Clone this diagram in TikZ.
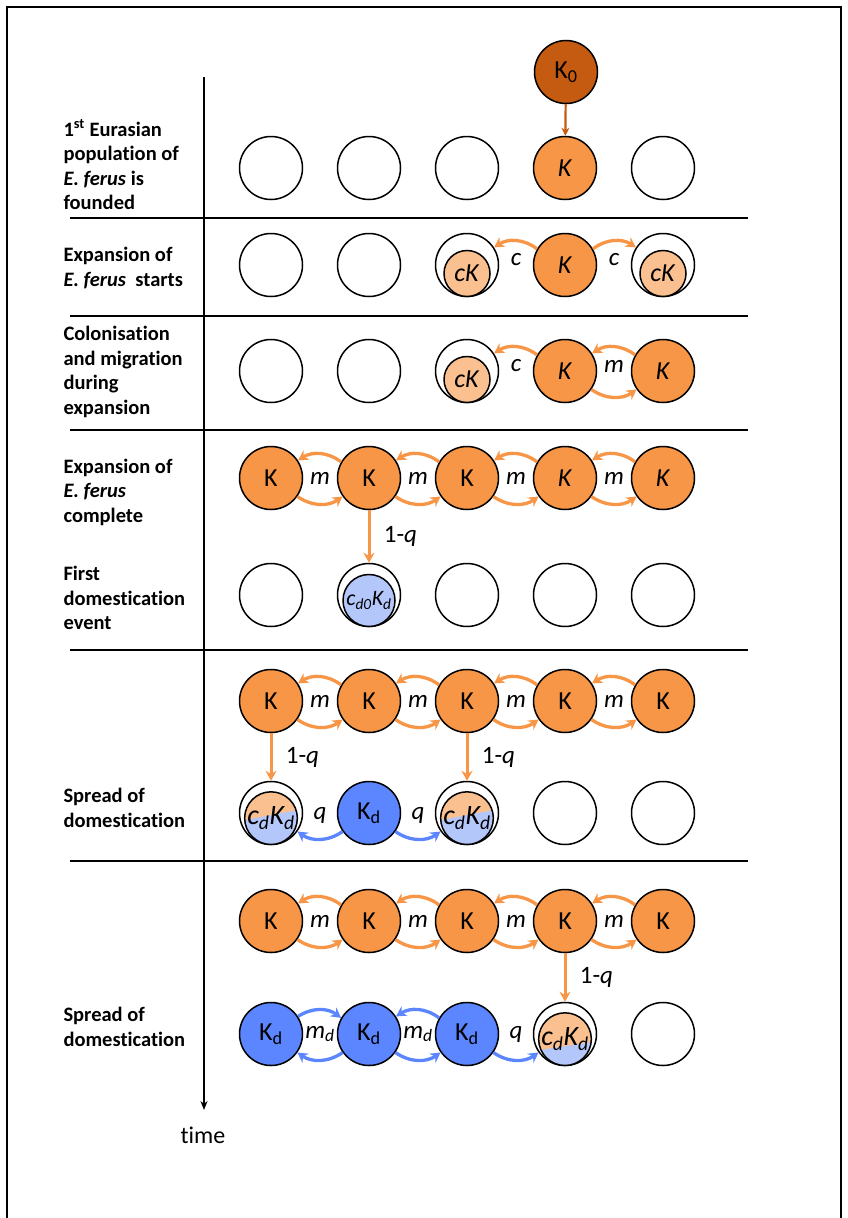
\documentclass[tikz,border=0pt]{standalone}
\usepackage{fontspec}
\setmainfont[Ligatures=NoCommon]{Carlito}
\usetikzlibrary{positioning, arrows.meta, calc}

\definecolor{kzero}{RGB}{197,90,17}
\definecolor{kwild}{RGB}{247,150,70}
\definecolor{kcol}{RGB}{250,192,144}
\definecolor{kdom}{RGB}{91,134,255}
\definecolor{kdomlight}{RGB}{180,199,250}

\tikzset{
  >={Stealth[length=10pt, width=11pt]},
  node distance=98pt,
  every node/.style={font=\fontsize{26}{30}\selectfont},
  pop/.style={circle, draw, line width=1.5pt, minimum size=63pt, inner sep=0pt},
  wild/.style={pop, fill=kwild},
  dom/.style={pop, fill=kdom},
  sub/.style={circle, draw, line width=1.5pt, minimum size=46pt, inner sep=0pt},
  halfsub/.style 2 args={sub, minimum size=48pt, fill=kcol,
    path picture={\fill[kdomlight] ([yshift=#1]path picture bounding box.west)
      -- ([yshift=#2]path picture bounding box.east)
      -- (path picture bounding box.south east)
      -- (path picture bounding box.south west) -- cycle;}},
  arc/.style={line width=3.3pt},
  mig/.style={->, kwild, line width=3.3pt, bend angle=35},
  migd/.style={->, kdom, line width=3.3pt, bend angle=35},
  drop/.style={->, kwild, line width=3pt},
  rate/.style={font=\fontsize{25}{29}\selectfont\itshape},
  prob/.style={black, font=\fontsize{25}{29}\selectfont},
  stage/.style={anchor=west, align=left, font=\fontsize{20.5}{24.5}\selectfont\bfseries},
  divider/.style={line width=2.5pt},
}

\begin{document}
\begin{tikzpicture}[x=1pt, y=-1pt]
  \useasboundingbox (0,0) rectangle (848,1218);

  % frame and time axis
  \draw[line width=2pt] (7,1218) -- (7,7) -- (841,7) -- (841,1218);
  \coordinate (ttop) at (204,77);
  \coordinate (tend) at (204,1110);
  \draw[-{Stealth[length=9pt, width=7pt]}, line width=1.8pt] (ttop) -- (tend);
  \node[font=\fontsize{24}{28}\selectfont] (time) at (203,1135) {time};

  % dividers
  \foreach \y in {218,316,430,650,861}
    \draw[divider] (70,\y) -- (748,\y);

  % stages
  \node[stage] (lab1) at (60,165) {1\textsuperscript{st} Eurasian\\population of\\\textit{E. ferus} is\\founded};
  \node[stage] (lab2) at (60,268) {Expansion of\\\textit{E. ferus}\ \ starts};
  \node[stage] (lab3) at (60,372) {Colonisation\\and migration\\during\\expansion};
  \node[stage] (lab4) at (60,492) {Expansion of\\\textit{E. ferus}\\complete};
  \node[stage] (lab5) at (60,598) {First\\domestication\\event};
  \node[stage] (lab7) at (60,808) {Spread of\\domestication};
  \node[stage] (lab9) at (60,1027) {Spread of\\domestication};

  % row 1
  \node[pop, fill=kzero] (k0) at (566,72) {K\textsubscript{0}};
  \node[pop] (r1c1) at (271,168) {};
  \node[pop, right of=r1c1] (r1c2) {};
  \node[pop, right of=r1c2] (r1c3) {};
  \node[wild, right of=r1c3] (r1c4) {\textit{K}};
  \node[pop, right of=r1c4] (r1c5) {};
  \draw[-{Stealth[length=8pt, width=8pt]}, kzero, line width=2.2pt] (k0) -- (r1c4);

  % row 2
  \node[pop] (r2c1) at (271,265) {};
  \node[pop, right of=r2c1] (r2c2) {};
  \node[pop, right of=r2c2] (r2c3) {};
  \node[wild, right of=r2c3] (r2c4) {\textit{K}};
  \node[pop, right of=r2c4] (r2c5) {};
  \node[sub, fill=kcol, anchor=south] (s2c3) at (r2c3.south) {\textit{cK}};
  \node[sub, fill=kcol, anchor=south] (s2c5) at (r2c5.south) {\textit{cK}};
  \draw[arc] (r2c4.150) edge[mig, bend right] (r2c3.33)
             (r2c4.30) edge[mig, bend left] (r2c5.147);
  \node[rate] (c23) at ($(r2c3)!.5!(r2c4)+(0,-5)$) {c};
  \node[rate] (c24) at ($(r2c4)!.5!(r2c5)+(0,-5)$) {c};

  % row 3
  \node[pop] (r3c1) at (271,371) {};
  \node[pop, right of=r3c1] (r3c2) {};
  \node[pop, right of=r3c2] (r3c3) {};
  \node[wild, right of=r3c3] (r3c4) {\textit{K}};
  \node[wild, right of=r3c4] (r3c5) {\textit{K}};
  \node[sub, fill=kcol, anchor=south] (s3c3) at (r3c3.south) {\textit{cK}};
  \draw[arc] (r3c4.150) edge[mig, bend right] (r3c3.33)
             (r3c5.150) edge[mig, bend right] (r3c4.33)
             (r3c4.-35) edge[mig, bend right] (r3c5.215);
  \node[rate] (c33) at ($(r3c3)!.5!(r3c4)+(0,-5)$) {c};
  \node[rate] (m34) at ($(r3c4)!.5!(r3c5)+(0,-5)$) {m};

  % row 4
  \node[wild] (r4c1) at (271,478) {K};
  \node[wild, right of=r4c1] (r4c2) {K};
  \node[wild, right of=r4c2] (r4c3) {K};
  \node[wild, right of=r4c3] (r4c4) {\textit{K}};
  \node[wild, right of=r4c4] (r4c5) {\textit{K}};

  % row 5
  \node[pop] (r5c1) at (271,595) {};
  \node[pop, right of=r5c1] (r5c2) {};
  \node[pop, right of=r5c2] (r5c3) {};
  \node[pop, right of=r5c3] (r5c4) {};
  \node[pop, right of=r5c4] (r5c5) {};
  \node[sub, minimum size=52pt, fill=kdomlight, anchor=south, font=\fontsize{22}{26}\selectfont] (s5c2) at (r5c2.south) {\textit{c\textsubscript{d0}K\textsubscript{d}}};
  \draw[drop] (r4c2) -- node[prob, right=10pt] (q45) {1-\textit{q}} (r5c2);

  % row 6
  \node[wild] (r6c1) at (271,701) {K};
  \node[wild, right of=r6c1] (r6c2) {K};
  \node[wild, right of=r6c2] (r6c3) {K};
  \node[wild, right of=r6c3] (r6c4) {K};
  \node[wild, right of=r6c4] (r6c5) {K};

  % row 7
  \node[pop] (r7c1) at (271,813) {};
  \node[dom, right of=r7c1] (r7c2) {K\textsubscript{d}};
  \node[pop, right of=r7c2] (r7c3) {};
  \node[pop, right of=r7c3] (r7c4) {};
  \node[pop, right of=r7c4] (r7c5) {};
  \node[halfsub={-2pt}{8pt}, anchor=south, font=\fontsize{28}{30}\selectfont] (s7c1) at (r7c1.south) {\textit{c\textsubscript{d}K\textsubscript{d}}};
  \node[halfsub={-2pt}{8pt}, anchor=south, font=\fontsize{28}{30}\selectfont] (s7c3) at (r7c3.south) {\textit{c\textsubscript{d}K\textsubscript{d}}};
  \draw[drop] (r6c1) -- node[prob, right=10pt] (q67a) {1-\textit{q}} (r7c1);
  \draw[drop] (r6c3) -- node[prob, right=10pt] (q67b) {1-\textit{q}} (r7c3);
  \draw[arc] (r7c2.215) edge[migd, bend left] (r7c1.-35)
             (r7c2.-35) edge[migd, bend right] (r7c3.215);
  \node[rate] (q71) at ($(r7c1)!.5!(r7c2)+(0,2)$) {q};
  \node[rate] (q72) at ($(r7c2)!.5!(r7c3)+(0,2)$) {q};

  % row 8
  \node[wild] (r8c1) at (271,921) {K};
  \node[wild, right of=r8c1] (r8c2) {K};
  \node[wild, right of=r8c2] (r8c3) {K};
  \node[wild, right of=r8c3] (r8c4) {K};
  \node[wild, right of=r8c4] (r8c5) {K};

  % row 9
  \node[dom] (r9c1) at (271,1034) {K\textsubscript{d}};
  \node[dom, right of=r9c1] (r9c2) {K\textsubscript{d}};
  \node[dom, right of=r9c2] (r9c3) {K\textsubscript{d}};
  \node[pop, right of=r9c3] (r9c4) {};
  \node[pop, right of=r9c4] (r9c5) {};
  \node[halfsub={-11pt}{-3pt}, anchor=south, font=\fontsize{28}{30}\selectfont] (s9c4) at (r9c4.south) {\textit{c\textsubscript{d}K\textsubscript{d}}};
  \draw[drop] (r8c4) -- node[prob, right=10pt] (q89) {1-\textit{q}} (r9c4);
  \draw[arc] (r9c1.33) edge[migd, bend left] (r9c2.150)
             (r9c2.215) edge[migd, bend left] (r9c1.-35)
             (r9c3.150) edge[migd, bend right] (r9c2.33)
             (r9c2.-35) edge[migd, bend right] (r9c3.215)
             (r9c3.-35) edge[migd, bend right] (r9c4.215);
  \node[rate] (md91) at ($(r9c1)!.5!(r9c2)$) {m\textsubscript{d}};
  \node[rate] (md92) at ($(r9c2)!.5!(r9c3)$) {m\textsubscript{d}};
  \node[rate] (q93) at ($(r9c3)!.5!(r9c4)$) {q};

  % migration between wild populations
  \foreach \r in {4,6,8}
    \foreach \a/\b in {1/2,2/3,3/4,4/5} {
      \draw[arc] (r\r c\b.150) edge[mig, bend right] (r\r c\a.33)
                 (r\r c\a.-35) edge[mig, bend right] (r\r c\b.215);
      \node[rate] (m\r\a) at ($(r\r c\a)!.5!(r\r c\b)$) {m};
    }
\end{tikzpicture}
\end{document}
